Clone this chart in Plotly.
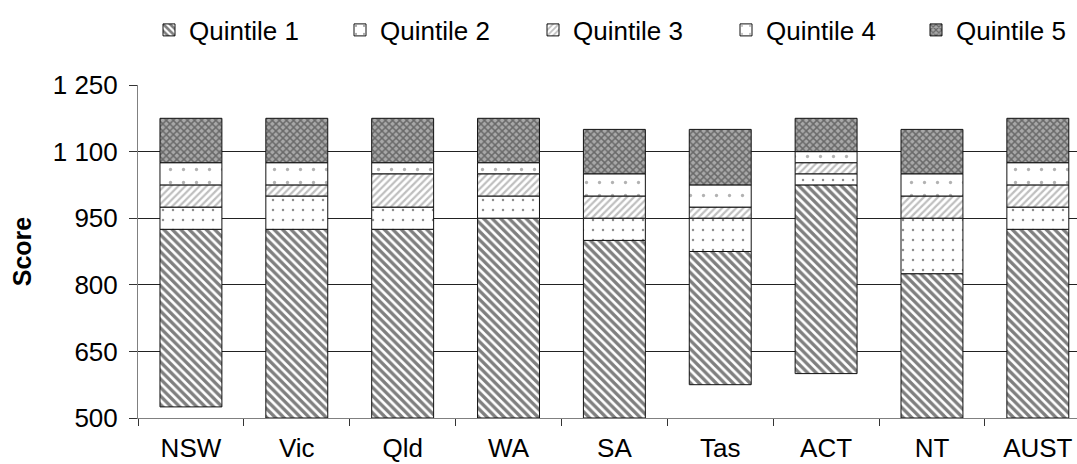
import plotly.graph_objects as go

# Data (scores at quintile boundaries)
states = ["NSW", "Vic", "Qld", "WA", "SA", "Tas", "ACT", "NT", "AUST"]
q1_low = [525, 500, 500, 500, 500, 575, 600, 500, 500]
q1_top = [925, 925, 925, 950, 900, 875, 1025, 825, 925]
q2_top = [975, 1000, 975, 1000, 950, 950, 1050, 950, 975]
q3_top = [1025, 1025, 1050, 1050, 1000, 975, 1075, 1000, 1025]
q4_top = [1075, 1075, 1075, 1075, 1050, 1025, 1100, 1050, 1075]
q5_top = [1175, 1175, 1175, 1175, 1150, 1150, 1175, 1150, 1175]

series_names = ["Quintile 1", "Quintile 2", "Quintile 3", "Quintile 4", "Quintile 5"]
y_tickvals = [500, 650, 800, 950, 1100, 1250]
y_ticktext = ["500", "650", "800", "950", "1 100", "1 250"]
grid_vals = [650, 800, 950, 1100]

FONT = "Arial, 'Liberation Sans', sans-serif"
FS = 26

patterns = [
    dict(shape="\\", fgcolor="#000000", bgcolor="#ffffff", size=6, solidity=0.55),
    dict(shape=".", fgcolor="#222222", bgcolor="#ffffff", size=10, solidity=0.05),
    dict(shape="/", fgcolor="#808080", bgcolor="#ffffff", size=5, solidity=0.45),
    dict(shape=".", fgcolor="#666666", bgcolor="#ffffff", size=13, solidity=0.05),
    dict(shape="x", fgcolor="#2a2a2a", bgcolor="#a8a8a8", size=5, solidity=0.5),
]

bounds = [q1_low, q1_top, q2_top, q3_top, q4_top, q5_top]
legend_ids = ["legend", "legend2", "legend3", "legend4", "legend5"]
legend_left_px = [149, 340, 533, 726, 916]

fig = go.Figure()
for i, name in enumerate(series_names):
    lo = bounds[i]
    hi = bounds[i + 1]
    fig.add_trace(go.Bar(
        x=states,
        y=[h - l for h, l in zip(hi, lo)],
        base=lo,
        name=name,
        width=0.585,
        legend=legend_ids[i],
        marker=dict(color="#ffffff", line=dict(color="#111111", width=1), pattern=patterns[i]),
    ))

plot_l, plot_w = 138, 939
legend_common = dict(
    orientation="h", xanchor="left", y=(418 - 30) / 333.0, yanchor="middle",
    font=dict(family=FONT, size=FS, color="#000000"),
    itemclick=False, bgcolor="rgba(0,0,0,0)",
)
layout_legends = {}
for lid, lpx in zip(legend_ids, legend_left_px):
    layout_legends[lid] = dict(legend_common, x=(lpx - plot_l) / plot_w)

fig.update_layout(
    width=1077, height=464,
    barmode="overlay",
    plot_bgcolor="#ffffff", paper_bgcolor="#ffffff",
    margin=dict(l=plot_l, r=0, t=85, b=46, autoexpand=False),
    font=dict(family=FONT, size=FS, color="#000000"),
    showlegend=True,
    xaxis=dict(
        type="category", range=[-0.5, 8.37],
        showline=True, linecolor="#808080", linewidth=1,
        ticks="outside", tickson="boundaries", ticklen=7, tickcolor="#333333",
        showgrid=False, ticklabelstandoff=7,
        tickfont=dict(family=FONT, size=FS, color="#000000"),
    ),
    yaxis=dict(
        range=[500, 1250], tickvals=y_tickvals, ticktext=y_ticktext,
        showline=True, linecolor="#808080", linewidth=1,
        ticks="outside", ticklen=8, tickcolor="#333333",
        showgrid=False, zeroline=False, ticklabelstandoff=6,
        minor=dict(tickvals=grid_vals, showgrid=True, gridcolor="#222222", gridwidth=1, ticks=""),
        tickfont=dict(family=FONT, size=FS, color="#000000"),
        title=dict(text="<b>Score</b>", font=dict(family=FONT, size=25, color="#000000"), standoff=13),
    ),
    **layout_legends,
)

fig.write_html("out.html", config={"displayModeBar": False},
               post_script="document.body.style.margin='0';")
